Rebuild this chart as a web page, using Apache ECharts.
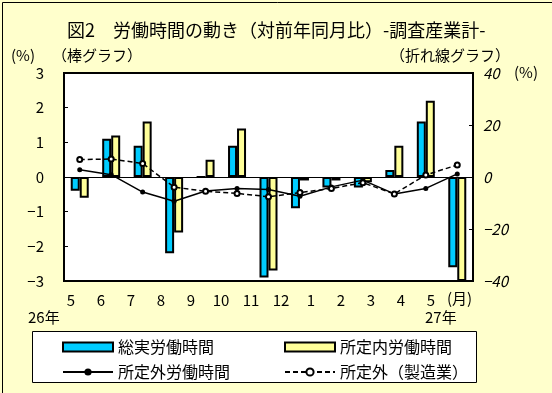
<!DOCTYPE html>
<html><head><meta charset="utf-8">
<script src="https://cdn.jsdelivr.net/npm/echarts@6/dist/echarts.min.js"></script>
<style>html,body{margin:0;padding:0;background:#FFFFCC;}#c{width:552px;height:393px;}</style>
</head><body><div id="c"></div>
<script>
var categories = ['5','6','7','8','9','10','11','12','1','2','3','4','5'];
var totalHours = [-0.4, 1.1, 0.9, -2.2, 0.0, 0.9, -2.9, -0.9, -0.3, -0.3, 0.2, 1.6, -2.6];
var scheduledHours = [-0.6, 1.2, 1.6, -1.6, 0.5, 1.4, -2.7, -0.1, -0.1, -0.15, 0.9, 2.2, -3.0];
var overtimeHours = [2.8, 0.9, -5.8, -9.3, -5.4, -4.4, -4.8, -7.4, -3.8, -1.2, -6.5, -4.4, 1.2];
var overtimeMfg = [6.7, 6.9, 5.2, -3.9, -5.5, -6.3, -7.6, -6.0, -4.4, -2.2, -6.5, 0.8, 4.6];
var leftTicks = {min: -3, max: 3, interval: 1};
var rightTicks = {min: -40, max: 40, interval: 20};

var FONT = '"Noto Sans CJK JP", sans-serif';
var chart = echarts.init(document.getElementById('c'));
function minus(v) { return String(v).replace('-', '\u2212'); }
function lg(name, left, top, icon) {
  var o = {data: [name], left: left, top: top, itemWidth: 50, itemHeight: 9, itemGap: 0,
    textStyle: {fontFamily: FONT, fontSize: 16, color: '#000'}, selectedMode: false, padding: 0};
  if (icon) o.icon = icon;
  return o;
}
chart.setOption({
  backgroundColor: '#FFFFCC',
  animation: false,
  title: {text: '図2　労働時間の動き（対前年同月比）-調査産業計-', left: 62, top: 16,
    textStyle: {fontFamily: FONT, fontSize: 18, fontWeight: 'normal', color: '#000'}},
  grid: [
    {left: 64, top: 73, width: 409, height: 208, show: true, backgroundColor: '#fff', borderColor: '#000', borderWidth: 2},
    {left: 56, top: 73, width: 390, height: 208, show: false}
  ],
  xAxis: [
    {type: 'category', gridIndex: 0, data: categories, axisLine: {onZero: true, lineStyle: {color: '#000', width: 1}},
      axisTick: {show: false}, axisLabel: {show: false}},
    {type: 'category', gridIndex: 1, data: categories, position: 'bottom', axisLine: {show: false}, axisTick: {show: false},
      axisLabel: {margin: 12, fontFamily: FONT, fontSize: 15, color: '#000'}}
  ],
  yAxis: [
    {type: 'value', gridIndex: 0, min: leftTicks.min, max: leftTicks.max, interval: leftTicks.interval,
      axisLine: {show: false}, axisTick: {show: true, inside: true, length: 4, lineStyle: {color: '#000'}},
      splitLine: {show: false}, axisLabel: {margin: 20, fontFamily: FONT, fontSize: 15, color: '#000', formatter: minus}},
    {type: 'value', gridIndex: 0, position: 'right', min: rightTicks.min, max: rightTicks.max, interval: rightTicks.interval,
      axisLine: {show: false}, axisTick: {show: true, inside: true, length: 4, lineStyle: {color: '#000'}},
      splitLine: {show: false}, axisLabel: {margin: 10, fontFamily: FONT, fontSize: 15, fontStyle: 'italic', color: '#000', formatter: minus}},
    {type: 'value', gridIndex: 1, show: false}
  ],
  legend: [
    lg('総実労働時間', 62, 339, 'rect'),
    lg('所定内労働時間', 284, 339, 'rect'),
    lg('所定外労働時間', 62, 364),
    lg('所定外（製造業）', 284, 364)
  ],
  graphic: [
    {type: 'rect', left: 32, top: 331, shape: {width: 444, height: 51}, style: {fill: '#fff', stroke: '#000', lineWidth: 1}, z: -1},
    {type: 'rect', left: 0, top: 0, shape: {width: 551, height: 392}, style: {fill: null, stroke: '#000', lineWidth: 1}, silent: true},
    {type: 'text', left: 11, top: 48, style: {text: '(%)', font: '15px ' + FONT, fill: '#000'}},
    {type: 'text', left: 52, top: 48, style: {text: '（棒グラフ）', font: '15px ' + FONT, fill: '#000'}},
    {type: 'text', left: 390, top: 48, style: {text: '（折れ線グラフ）', font: '15px ' + FONT, fill: '#000'}},
    {type: 'text', left: 514, top: 65, style: {text: '(%)', font: '15px ' + FONT, fill: '#000'}},
    {type: 'text', left: 447, top: 291, style: {text: '(月)', font: '15px ' + FONT, fill: '#000'}},
    {type: 'text', left: 28, top: 310, style: {text: '26年', font: '15px ' + FONT, fill: '#000'}},
    {type: 'text', left: 425, top: 310, style: {text: '27年', font: '15px ' + FONT, fill: '#000'}}
  ],
  series: [
    {name: '総実労働時間', type: 'bar', xAxisIndex: 0, yAxisIndex: 0, data: totalHours, barWidth: 9, barGap: '0%',
      itemStyle: {color: '#00CCFF', borderColor: '#000', borderWidth: 2}},
    {name: '所定内労働時間', type: 'bar', xAxisIndex: 0, yAxisIndex: 0, data: scheduledHours, barWidth: 9, barGap: '0%',
      itemStyle: {color: '#FFFF99', borderColor: '#000', borderWidth: 2}},
    {name: '所定外労働時間', type: 'line', xAxisIndex: 0, yAxisIndex: 1, data: overtimeHours, symbol: 'circle', symbolSize: 5,
      lineStyle: {color: '#000', width: 1.5}, itemStyle: {color: '#000'}, z: 5},
    {name: '所定外（製造業）', type: 'line', xAxisIndex: 0, yAxisIndex: 1, data: overtimeMfg, symbol: 'emptyCircle', symbolSize: 5,
      lineStyle: {color: '#000', width: 1.5, type: [5, 3]}, itemStyle: {color: '#000', borderColor: '#000', borderWidth: 1.5}, z: 5}
  ]
});
</script></body></html>
